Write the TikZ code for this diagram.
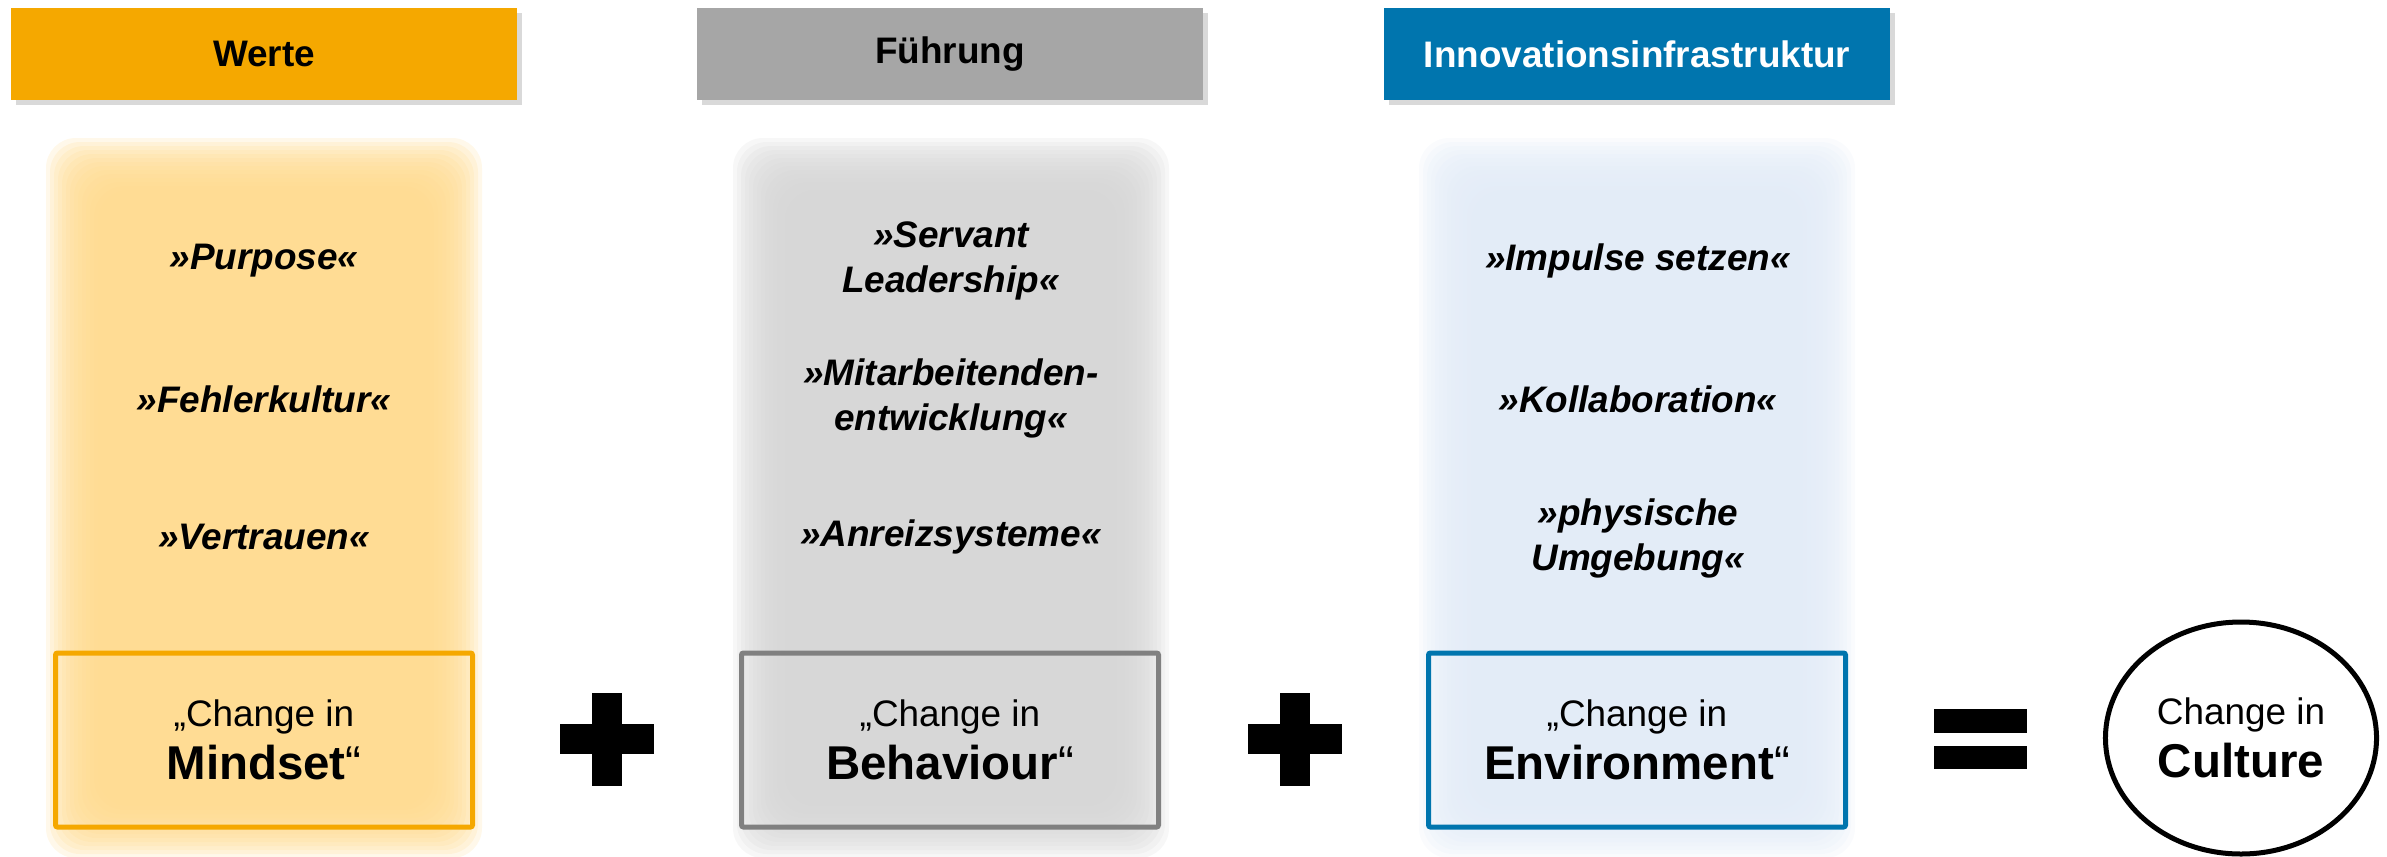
\documentclass[tikz,border=0pt]{standalone}
\usepackage{fontspec}
\setmainfont{Liberation Sans}
\usetikzlibrary{shadows, shapes.geometric}

\definecolor{wertecol}{HTML}{F5A800}
\definecolor{fuehrungcol}{HTML}{A6A6A6}
\definecolor{infracol}{HTML}{0075AE}
\definecolor{werteglow}{HTML}{FFDA8E}
\definecolor{fuehrungglow}{HTML}{D5D5D5}
\definecolor{infraglow}{HTML}{E2EBF7}
\definecolor{fuehrungrand}{HTML}{808080}

\begin{document}
\begin{tikzpicture}[x=0.1mm, y=-0.1mm,
    kopf/.style={rectangle, minimum width=50.6mm, minimum height=9.2mm, inner sep=0pt,
        font=\fontsize{10.5}{12.6}\selectfont\bfseries,
        drop shadow={shadow xshift=0.45mm, shadow yshift=-0.45mm, opacity=0.3}},
    punkt/.style={align=center, inner sep=0pt, font=\fontsize{10.5}{12.8}\selectfont\bfseries\itshape},
    wandel/.style={rectangle, line width=0.5mm, rounded corners=0.2mm, minimum width=41.7mm,
        minimum height=17.4mm, align=center, font=\fontsize{10.5}{15}\selectfont},
    gross/.style={font=\fontsize{13.5}{15}\selectfont}]
    \useasboundingbox (0,0) rectangle (2387,856);

    \foreach \cx/\farbe in {264/werteglow, 951/fuehrungglow, 1637/infraglow}
        \foreach \i in {0,...,13}
            \fill[\farbe, opacity=0.19, rounded corners=3mm] (\cx-218+4*\i, 138+4*\i) rectangle (\cx+218-4*\i, 858-4*\i);

    \node[kopf, fill=wertecol] (werte) at (264,54) {Werte};
    \node[kopf, fill=fuehrungcol] (fuehrung) at (950,54) {Führung};
    \node[kopf, fill=infracol, text=white] (infra) at (1637,54) {Innovationsinfrastruktur};

    \node[punkt] (purpose) at (264,261) {»Purpose«};
    \node[punkt] (fehler) at (264,399) {»Fehlerkultur«};
    \node[punkt] (vertrauen) at (264,537) {»Vertrauen«};

    \node[punkt] (servant) at (951,261) {»Servant\\Leadership«};
    \node[punkt] (mitarbeiter) at (951,398) {»Mitarbeitenden-\\entwicklung«};
    \node[punkt] (anreiz) at (951,537) {»Anreizsysteme«};

    \node[punkt] (impulse) at (1638,261) {»Impulse setzen«};
    \node[punkt] (kollab) at (1638,399) {»Kollaboration«};
    \node[punkt] (umgebung) at (1638,538) {»physische\\Umgebung«};

    \node[wandel, draw=wertecol] (mindset) at (264,740) {„Change in\\{\fontsize{13.5}{15}\selectfont\bfseries Mindset}{\fontsize{13.5}{15}\selectfont“}};
    \node[wandel, draw=fuehrungrand] (behaviour) at (950,740) {„Change in\\{\fontsize{13.5}{15}\selectfont\bfseries Behaviour}{\fontsize{13.5}{15}\selectfont“}};
    \node[wandel, draw=infracol] (environment) at (1637,740) {„Change in\\{\fontsize{13.5}{15}\selectfont\bfseries Environment}{\fontsize{13.5}{15}\selectfont“}};

    \foreach \px in {607,1295} {
        \fill (\px-15,693) rectangle (\px+15,786);
        \fill (\px-47,724) rectangle (\px+47,754);
    }
    \fill (1934,709) rectangle (2027,733);
    \fill (1934,746) rectangle (2027,769);

    \node[ellipse, draw, line width=0.5mm, minimum width=24.8mm, minimum height=23.2mm, align=center,
        font=\fontsize{10.5}{15}\selectfont] (culture) at (2241,738) {Change in\\{\fontsize{13.5}{15}\selectfont\bfseries Culture}};
\end{tikzpicture}
\end{document}
